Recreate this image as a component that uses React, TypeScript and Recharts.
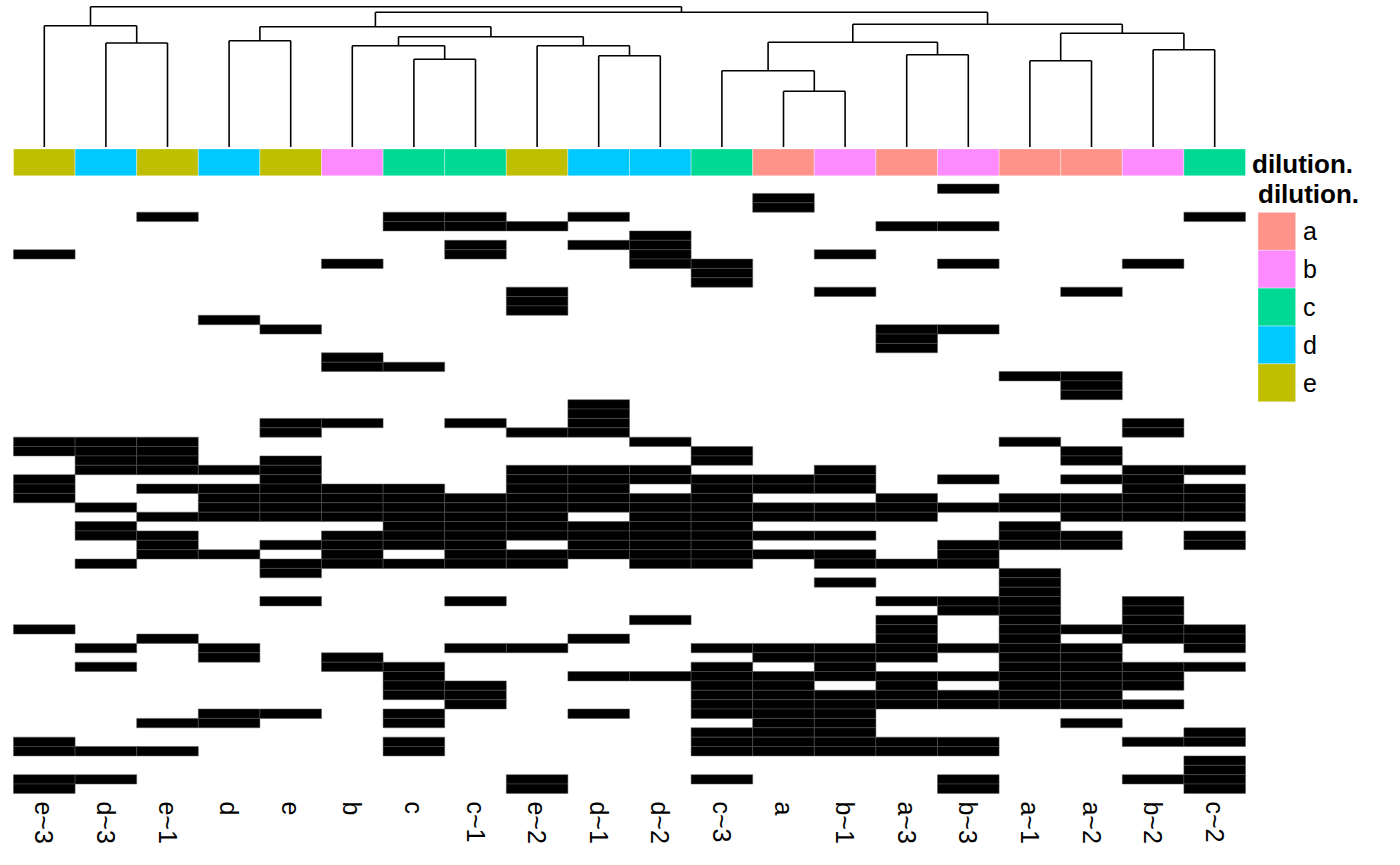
import React from 'react';
import { ComposedChart, XAxis, YAxis, ReferenceArea, ReferenceLine } from 'recharts';

// ---- data ----
const columnLabels = ['e~3', 'd~3', 'e~1', 'd', 'e', 'b', 'c', 'c~1', 'e~2', 'd~1', 'd~2', 'c~3', 'a', 'b~1', 'a~3', 'b~3', 'a~1', 'a~2', 'b~2', 'c~2'];
const columnDilution = ['e', 'd', 'e', 'd', 'e', 'b', 'c', 'c', 'e', 'd', 'd', 'c', 'a', 'b', 'a', 'b', 'a', 'a', 'b', 'c'];
const dilutionLevels = ['a', 'b', 'c', 'd', 'e'];
const dilutionColors = ['#FF938A', '#FD8BFF', '#00D994', '#00C9FF', '#BFBF00'];

// each row lists the columns whose cell is present (black)
const presentCells: number[][] = [
  [15],
  [12],
  [12],
  [2, 6, 7, 9, 19],
  [6, 7, 8, 14, 15],
  [10],
  [7, 9, 10],
  [0, 7, 10, 13],
  [5, 10, 11, 15, 18],
  [11],
  [11],
  [8, 13, 17],
  [8],
  [8],
  [3],
  [4, 14, 15],
  [14],
  [14],
  [5],
  [5, 6],
  [16, 17],
  [17],
  [17],
  [9],
  [9],
  [4, 5, 7, 9, 18],
  [4, 8, 9, 18],
  [0, 1, 2, 10, 16],
  [0, 1, 2, 11, 17],
  [1, 2, 4, 11, 17],
  [1, 2, 3, 4, 8, 9, 10, 13, 18, 19],
  [0, 4, 8, 9, 10, 11, 12, 13, 15, 17, 18],
  [0, 2, 3, 4, 5, 6, 8, 9, 11, 12, 13, 18, 19],
  [0, 3, 4, 5, 6, 7, 8, 9, 10, 11, 14, 16, 17, 18, 19],
  [1, 3, 4, 5, 6, 7, 8, 9, 10, 11, 12, 13, 14, 15, 16, 17, 18, 19],
  [2, 3, 4, 5, 6, 7, 8, 10, 11, 12, 13, 14, 17, 18, 19],
  [1, 6, 7, 8, 9, 10, 11, 16],
  [1, 2, 5, 6, 7, 8, 9, 10, 11, 12, 13, 16, 17, 19],
  [2, 4, 5, 6, 7, 9, 10, 11, 15, 16, 17, 19],
  [2, 3, 5, 7, 8, 9, 10, 11, 12, 13, 15],
  [1, 4, 5, 6, 7, 8, 10, 11, 13, 14, 15],
  [4, 16],
  [13, 16],
  [16],
  [4, 7, 14, 15, 16, 18],
  [15, 16, 18],
  [10, 14, 16, 18],
  [0, 14, 16, 17, 18, 19],
  [2, 9, 14, 16, 18, 19],
  [1, 3, 7, 8, 11, 12, 13, 14, 15, 16, 17, 19],
  [3, 5, 12, 13, 14, 16, 17],
  [1, 5, 6, 11, 13, 16, 17, 18, 19],
  [6, 9, 10, 11, 12, 13, 14, 15, 16, 17, 18],
  [6, 7, 11, 12, 14, 16, 17, 18],
  [6, 7, 11, 12, 13, 14, 15, 16, 17],
  [7, 11, 12, 13, 14, 15, 16, 17, 18],
  [3, 4, 6, 9, 11, 12, 13],
  [2, 3, 6, 12, 13, 17],
  [11, 12, 13, 19],
  [0, 6, 11, 12, 13, 14, 15, 18, 19],
  [0, 1, 2, 6, 11, 12, 13, 14, 15],
  [19],
  [19],
  [0, 1, 8, 11, 15, 18, 19],
  [0, 8, 15, 19],
];

// hclust-style merges: negative = leaf (column index + 1), positive = earlier merge (1-based)
const mergeLeft = [-7, -13, -10, -12, -17, -15, -19, -6, -9, -2, 4, -4, 8, 5, 12, -1, 11, 15, 16];
const mergeRight = [-8, -14, -11, 2, -18, -16, -20, 1, 3, -3, 6, -5, 9, 7, 13, 10, 14, 17, 18];
const mergeHeight = [87.7, 55.7, 91.3, 76.3, 86.3, 92.3, 97.3, 101.3, 101.3, 104, 104.7, 106.3, 110.3, 113.7, 120.3, 121.3, 122.7, 134.7, 140.3];

const ROWS = presentCells.length;
const COLS = columnLabels.length;
const colTicks = columnLabels.map((_, i) => i + 0.5);

const FONT = '"Liberation Sans", Arial, Helvetica, sans-serif';

// ---- layout ----
const W = 1400;
const H = 865;
const PLOT_LEFT = 13.5;
const PLOT_RIGHT = 1245.5;
const HEAT_TOP = 148.9;
const HEAT_BOTTOM = 793.4;
const Y_TOP = -3.75;
const BAR_BOTTOM = -0.88;
const DENDRO_TOP = 6.7;
const DENDRO_BOTTOM = 147;
const DENDRO_MAX = 140.3;

function buildDendrogram() {
  const xs: number[] = [];
  const segs: { x1: number; y1: number; x2: number; y2: number }[] = [];
  const nodeX = (id: number) => (id < 0 ? -id - 1 + 0.5 : xs[id - 1]);
  const nodeH = (id: number) => (id < 0 ? 0 : mergeHeight[id - 1]);
  for (let i = 0; i < mergeLeft.length; i++) {
    const a = mergeLeft[i];
    const b = mergeRight[i];
    const h = mergeHeight[i];
    const xa = nodeX(a);
    const xb = nodeX(b);
    segs.push({ x1: xa, y1: nodeH(a), x2: xa, y2: h });
    segs.push({ x1: xb, y1: nodeH(b), x2: xb, y2: h });
    segs.push({ x1: xa, y1: h, x2: xb, y2: h });
    xs.push((xa + xb) / 2);
  }
  return segs;
}

const ColumnTick = (props: any) => {
  const { x, y, payload } = props;
  const label = columnLabels[Math.floor(payload.value)];
  return (
    <text
      x={x}
      y={y}
      transform={`rotate(90, ${x}, ${y})`}
      textAnchor="start"
      dominantBaseline="central"
      fontSize={25}
      fontFamily={FONT}
      fill="#000"
    >
      {label}
    </text>
  );
};

export default function App() {
  const segs = buildDendrogram();

  const cells: React.ReactNode[] = [];
  presentCells.forEach((cols, r) => {
    cols.forEach((c) => {
      cells.push(
        <ReferenceArea
          key={`cell-${r}-${c}`}
          x1={c}
          x2={c + 1}
          y1={r}
          y2={r + 1}
          fill="#000000"
          fillOpacity={1}
          stroke="#555555"
          strokeWidth={0.5}
          isFront
        />
      );
    });
  });

  const bar = columnDilution.map((d, c) => (
    <ReferenceArea
      key={`bar-${c}`}
      x1={c}
      x2={c + 1}
      y1={Y_TOP}
      y2={BAR_BOTTOM}
      fill={dilutionColors[dilutionLevels.indexOf(d)]}
      fillOpacity={1}
      stroke="#ffffff"
      strokeOpacity={0.6}
      strokeWidth={0.6}
    />
  ));

  const xAxisHeight = 60;

  return (
    <div style={{ position: 'absolute', left: 0, top: 0, width: W, height: H, background: '#ffffff', fontFamily: FONT }}>
      {/* dendrogram */}
      <div style={{ position: 'absolute', left: 0, top: 0 }}>
        <ComposedChart
          width={W}
          height={160}
          margin={{ top: DENDRO_TOP, right: W - PLOT_RIGHT, bottom: 160 - DENDRO_BOTTOM, left: PLOT_LEFT }}
        >
          <XAxis type="number" dataKey="x" domain={[0, COLS]} allowDataOverflow hide />
          <YAxis type="number" domain={[0, DENDRO_MAX]} allowDataOverflow hide />
          {segs.map((s, i) => (
            <ReferenceLine
              key={`seg-${i}`}
              segment={[{ x: s.x1, y: s.y1 }, { x: s.x2, y: s.y2 }]}
              stroke="#000000"
              strokeWidth={1.6}
              ifOverflow="visible"
            />
          ))}
        </ComposedChart>
      </div>

      {/* annotation bar + heatmap */}
      <div style={{ position: 'absolute', left: 0, top: 0 }}>
        <ComposedChart
          width={W}
          height={H}
          margin={{ top: HEAT_TOP, right: W - PLOT_RIGHT, bottom: H - HEAT_BOTTOM - xAxisHeight, left: PLOT_LEFT }}
        >
          <XAxis
            type="number"
            dataKey="x"
            domain={[0, COLS]}
            allowDataOverflow
            ticks={colTicks}
            interval={0}
            tick={<ColumnTick />}
            tickLine={false}
            axisLine={false}
            height={xAxisHeight}
          />
          <YAxis type="number" domain={[Y_TOP, ROWS]} allowDataOverflow reversed hide />
          {bar}
          {cells}
        </ComposedChart>
      </div>

      {/* annotation label and legend */}
      <svg
        width={W}
        height={H}
        style={{ position: 'absolute', left: 0, top: 0, pointerEvents: 'none' }}
      >
        <text x={1252} y={173} fontSize={26} fontWeight="bold" fontFamily={FONT} fill="#000">
          dilution.
        </text>
        <text x={1258} y={203} fontSize={26} fontWeight="bold" fontFamily={FONT} fill="#000">
          dilution.
        </text>
        {dilutionLevels.map((lv, i) => (
          <g key={`leg-${lv}`}>
            <rect
              x={1258}
              y={212.3 + i * 37.9}
              width={37.7}
              height={37.9}
              fill={dilutionColors[i]}
              stroke="#ffffff"
              strokeOpacity={0.6}
              strokeWidth={0.6}
            />
            <text
              x={1303}
              y={212.3 + i * 37.9 + 19}
              fontSize={25}
              fontFamily={FONT}
              dominantBaseline="central"
              fill="#000"
            >
              {lv}
            </text>
          </g>
        ))}
      </svg>
    </div>
  );
}
